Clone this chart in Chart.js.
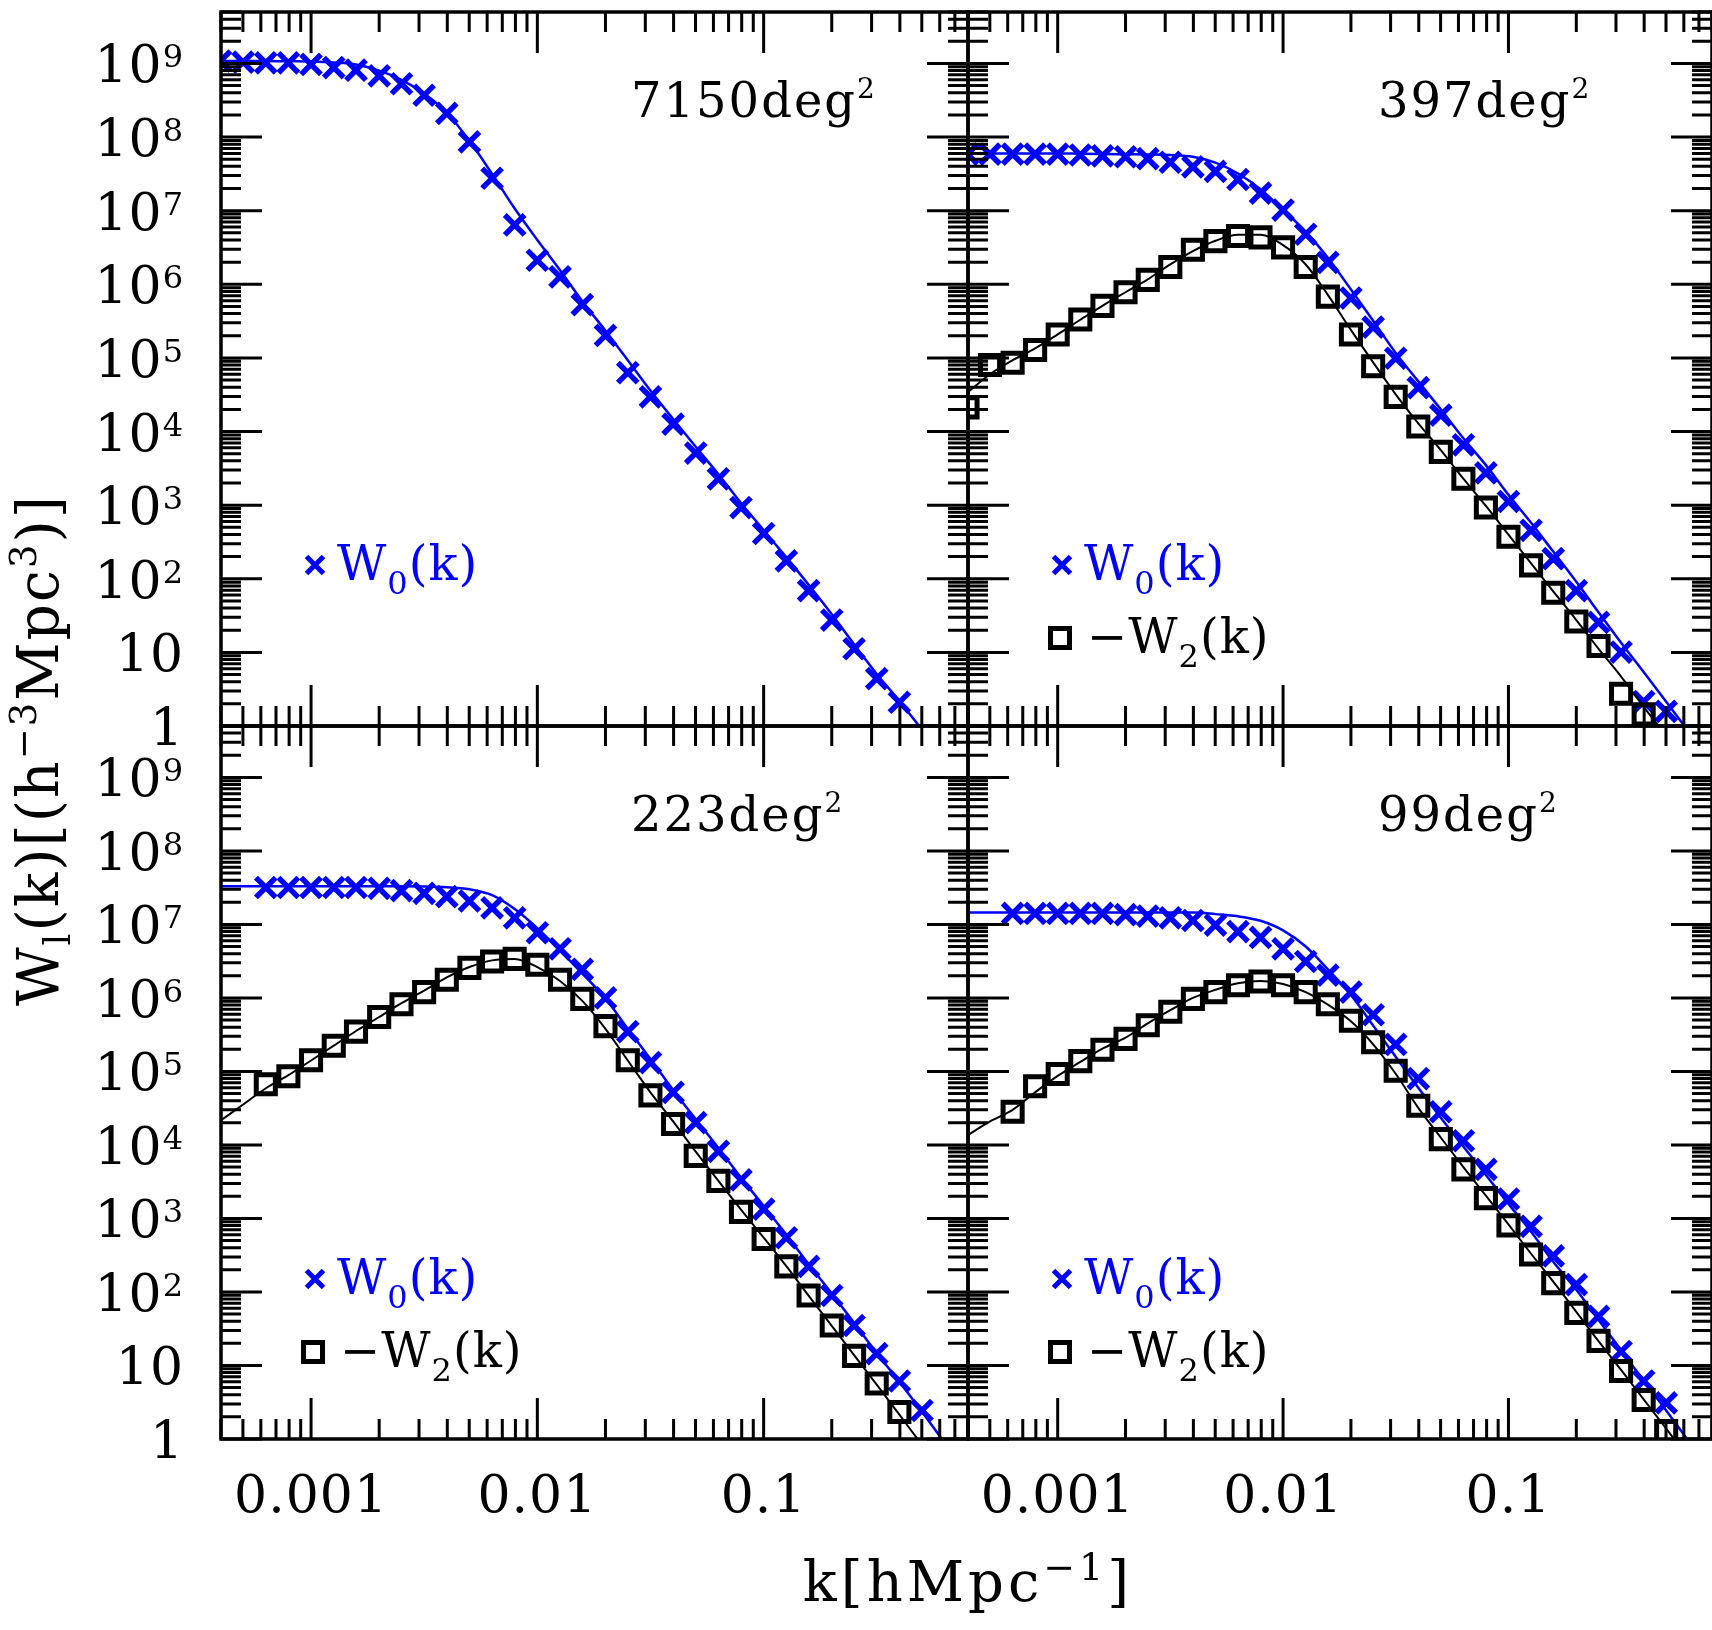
<!DOCTYPE html>
<html lang="en">
<head>
<meta charset="utf-8">
<title>W0(k) and -W2(k) for four survey areas</title>
<script src="https://cdn.jsdelivr.net/npm/chart.js@4.4.1/dist/chart.umd.min.js"></script>
<style>
    html, body { margin: 0; padding: 0; background: #fff; overflow: hidden; }
    #figure { position: relative; width: 1712px; height: 1630px; overflow: hidden; }
    #figure canvas { position: absolute; left: 0; top: 0; }
</style>
</head>
<body>
<div id="figure">
    <canvas id="panel-7150" width="1712" height="1630"></canvas>
    <canvas id="panel-397" width="1712" height="1630"></canvas>
    <canvas id="panel-223" width="1712" height="1630"></canvas>
    <canvas id="panel-99" width="1712" height="1630"></canvas>
</div>
<script>
// k bins [h/Mpc], shared by every series (null = no point in that bin)
const kGrid = [3.98e-4, 5.01e-4, 6.31e-4, 7.94e-4, 1.00e-3, 1.26e-3, 1.58e-3, 2.00e-3, 2.51e-3, 3.16e-3,
    3.98e-3, 5.01e-3, 6.31e-3, 7.94e-3, 1.00e-2, 1.26e-2, 1.58e-2, 2.00e-2, 2.51e-2, 3.16e-2,
    3.98e-2, 5.01e-2, 6.31e-2, 7.94e-2, 0.100, 0.126, 0.158, 0.200, 0.251, 0.316, 0.398, 0.501, 0.631];

// 7150 deg^2
const w0_7150 = [1.08e9, 1.04e9, 1.02e9, 1.02e9, 9.7e8, 8.8e8, 8.1e8, 6.8e8, 5.3e8, 3.7e8,
    2.1e8, 8.6e7, 2.76e7, 6.4e6, 2.12e6, 1.26e6, 5.3e5, 2.02e5, 6.3e4, 2.96e4,
    1.26e4, 5.1e3, 2.28e3, 927, 412, 175, 69, 27.5, 11.2, 4.4, 2.1, null, null];
const w0Fit_7150 = [1.08e9, 1.08e9, 1.08e9, 1.07e9, 1.06e9, 1.03e9, 9.7e8, 8.0e8, 6.0e8, 3.9e8,
    2.14e8, 8.9e7, 3.16e7, 1.07e7, 4.0e6, 1.55e6, 5.9e5, 2.34e5, 9.3e4, 3.6e4,
    1.48e4, 6.2e3, 2.63e3, 1.07e3, 457, 195, 83, 33, 12.9, 5.1, 2.19, 0.89, 0.36];

// 397 deg^2
const w0_397 = [5.87e7, 5.87e7, 5.87e7, 5.87e7, 5.87e7, 5.71e7, 5.56e7, 5.4e7, 5.09e7, 4.55e7,
    3.94e7, 3.42e7, 2.65e7, 1.73e7, 1.02e7, 4.79e6, 1.98e6, 6.5e5, 2.62e5, 9.9e4,
    3.94e4, 1.67e4, 6.6e3, 2.74e3, 1.12e3, 455, 188, 69, 25.6, 10.1, 2.14, 1.58, null];
const w0Fit_397 = [6.0e7, 6.0e7, 6.0e7, 6.0e7, 6.0e7, 5.95e7, 5.9e7, 5.85e7, 5.8e7, 5.7e7,
    5.4e7, 4.5e7, 3.2e7, 1.95e7, 1.02e7, 5.2e6, 2.29e6, 8.5e5, 3.2e5, 1.17e5,
    4.8e4, 2.0e4, 8.1e3, 3.5e3, 1.38e3, 575, 234, 91, 35, 13.5, 5.4, 2.14, 0.83];
const w2_397 = [2.13e4, 8.0e4, 8.6e4, 1.28e5, 2.08e5, 3.33e5, 5.1e5, 7.8e5, 1.15e6, 1.72e6,
    2.95e6, 3.86e6, 4.52e6, 4.34e6, 3.17e6, 1.72e6, 6.8e5, 2.08e5, 7.7e4, 2.96e4,
    1.17e4, 5.3e3, 2.28e3, 927, 372, 152, 64.6, 26.3, 12.2, 2.74, 1.44, null, null];
const w2Fit_397 = [3.4e4, 6.0e4, 9.3e4, 1.35e5, 2.09e5, 3.3e5, 5.1e5, 7.8e5, 1.17e6, 1.86e6,
    2.82e6, 3.9e6, 4.7e6, 4.7e6, 3.4e6, 1.86e6, 7.2e5, 2.4e5, 8.7e4, 3.2e4,
    1.29e4, 5.6e3, 2.29e3, 977, 398, 162, 67.6, 27.5, 11.2, 4.7, 1.82, 0.74, 0.3];

// 223 deg^2
const w0_223 = [null, null, 3.18e7, 3.18e7, 3.18e7, 3.18e7, 3.18e7, 3.1e7, 2.88e7, 2.65e7,
    2.39e7, 2.08e7, 1.68e7, 1.23e7, 7.7e6, 4.66e6, 2.45e6, 1.0e6, 3.48e5, 1.32e5,
    5.2e4, 2.01e4, 8.2e3, 3.34e3, 1.34e3, 547, 223, 89.5, 35, 14.5, 6.15, 2.44, null];
const w0Fit_223 = [3.3e7, 3.3e7, 3.3e7, 3.3e7, 3.3e7, 3.3e7, 3.3e7, 3.3e7, 3.3e7, 3.28e7,
    3.2e7, 3.0e7, 2.5e7, 1.62e7, 8.9e6, 4.4e6, 2.14e6, 9.8e5, 3.8e5, 1.48e5,
    5.6e4, 2.24e4, 9.1e3, 3.6e3, 1.48e3, 603, 240, 95.5, 38, 14.8, 6.0, 2.34, 0.89];
const w2_223 = [null, null, 6.7e4, 8.6e4, 1.42e5, 2.24e5, 3.48e5, 5.5e5, 8.2e5, 1.2e6,
    1.77e6, 2.56e6, 3.13e6, 3.4e6, 2.82e6, 1.77e6, 9.7e5, 4.13e5, 1.42e5, 4.73e4,
    1.93e4, 7.1e3, 3.25e3, 1.23e3, 525, 223, 89.5, 35, 13.5, 5.7, 2.33, null, null];
const w2Fit_223 = [2.14e4, 3.55e4, 5.9e4, 8.9e4, 1.41e5, 2.24e5, 3.55e5, 5.5e5, 8.5e5, 1.26e6,
    1.9e6, 2.63e6, 3.24e6, 3.39e6, 2.63e6, 1.7e6, 9.1e5, 3.8e5, 1.41e5, 5.2e4,
    2.09e4, 8.1e3, 3.24e3, 1.32e3, 550, 224, 89, 34.7, 13.8, 5.5, 2.14, 0.83, 0.33];

// 99 deg^2
const w0_99 = [null, null, 1.41e7, 1.41e7, 1.41e7, 1.41e7, 1.41e7, 1.36e7, 1.3e7, 1.23e7,
    1.13e7, 9.8e6, 8.0e6, 6.65e6, 4.66e6, 3.13e6, 2.04e6, 1.2e6, 5.9e5, 2.33e5,
    8.0e4, 2.83e4, 1.14e4, 4.65e3, 1.84e3, 782, 310, 126, 46.6, 15.5, 6.15, 3.1, null];
const w0Fit_99 = [1.45e7, 1.45e7, 1.45e7, 1.45e7, 1.45e7, 1.45e7, 1.45e7, 1.45e7, 1.45e7, 1.45e7,
    1.45e7, 1.38e7, 1.29e7, 1.12e7, 8.3e6, 5.0e6, 2.45e6, 1.1e6, 4.2e5, 1.58e5,
    6.0e4, 2.34e4, 9.5e3, 3.9e3, 1.58e3, 660, 257, 107, 41.7, 16.2, 6.2, 2.45, 0.93];
const w2_99 = [null, null, 2.83e4, 6.3e4, 9.25e4, 1.38e5, 1.97e5, 2.77e5, 4.25e5, 6.5e5,
    9.7e5, 1.2e6, 1.49e6, 1.67e6, 1.49e6, 1.2e6, 8.2e5, 4.9e5, 2.5e5, 1.02e5,
    3.41e4, 1.2e4, 4.65e3, 1.89e3, 805, 323, 132, 52, 21.6, 8.4, 3.4, 1.28, null];
const w2Fit_99 = [1.35e4, 2.09e4, 3.0e4, 5.2e4, 8.7e4, 1.35e5, 2.04e5, 2.88e5, 4.5e5, 6.8e5,
    1.0e6, 1.29e6, 1.58e6, 1.7e6, 1.55e6, 1.2e6, 8.1e5, 4.8e5, 2.34e5, 9.3e4,
    3.2e4, 1.26e4, 5.0e3, 2.04e3, 832, 331, 138, 53.7, 21.4, 8.7, 3.47, 1.38, 0.55];

// axis labels
const yTickBase = ['1', '10', '10', '10', '10', '10', '10', '10', '10', '10'];
const yTickExp = ['', '', '2', '3', '4', '5', '6', '7', '8', '9'];
const xTickValues = [0.001, 0.01, 0.1];
const xTickLabels = ['0.001', '0.01', '0.1'];

const FONT = "'DejaVu Serif', serif";
const BLUE = '#0000ff';
const CW = 1712, CH = 1630;

function xy(values) {
    let out = [];
    values.forEach(function (v, i) {
        if (v !== null) out.push({x: kGrid[i], y: v});
    });
    return out;
}

function richText(ctx, parts, x, y, align) {
    let total = 0;
    parts.forEach(function (p) {
        ctx.font = p.size + 'px ' + FONT;
        p.w = ctx.measureText(p.text).width;
        total += p.w;
    });
    let cx = x;
    if (align === 'right') cx = x - total;
    if (align === 'center') cx = x - total / 2;
    parts.forEach(function (p) {
        ctx.font = p.size + 'px ' + FONT;
        ctx.fillText(p.text, cx, y + (p.dy || 0));
        cx += p.w;
    });
}

const framePlugin = {
    id: 'frame',
    afterDraw(chart, args, opts) {
        let ctx = chart.ctx;
        let a = chart.chartArea;
        let xs = chart.scales.x;
        let ys = chart.scales.y;

        ctx.save();
        ctx.strokeStyle = '#000';
        ctx.lineWidth = 3;
        ctx.beginPath();
        for (let e = -4; e <= 0; e++) {
            for (let m = 1; m <= 9; m++) {
                let v = m * Math.pow(10, e);
                if (v < xs.min * 0.999 || v > xs.max * 1.001) continue;
                let px = xs.getPixelForValue(v);
                let len = m === 1 ? 41 : 20;
                ctx.moveTo(px, a.top); ctx.lineTo(px, a.top + len);
                ctx.moveTo(px, a.bottom); ctx.lineTo(px, a.bottom - len);
            }
        }
        for (let e = 0; e <= 9; e++) {
            for (let m = 1; m <= 9; m++) {
                let v = m * Math.pow(10, e);
                if (v > ys.max * 1.001) continue;
                let py = ys.getPixelForValue(v);
                let len = m === 1 ? 41 : 20;
                ctx.moveTo(a.left, py); ctx.lineTo(a.left + len, py);
                ctx.moveTo(a.right, py); ctx.lineTo(a.right - len, py);
            }
        }
        ctx.stroke();
        ctx.lineWidth = 3.5;
        ctx.strokeRect(a.left, a.top, a.right - a.left, a.bottom - a.top);

        ctx.textAlign = 'left';
        ctx.textBaseline = 'alphabetic';
        ctx.letterSpacing = '1px';
        ctx.fillStyle = '#000';

        if (opts.yLabels) {
            yTickBase.forEach(function (base, i) {
                let py = ys.getPixelForValue(Math.pow(10, i));
                let parts = [{text: base, size: 52}];
                if (yTickExp[i]) parts.push({text: yTickExp[i], size: 32, dy: -15});
                richText(ctx, parts, 184, py + 19, 'right');
            });
        }
        if (opts.xLabels) {
            xTickValues.forEach(function (v, i) {
                richText(ctx, [{text: xTickLabels[i], size: 52}], xs.getPixelForValue(v), 1512, 'center');
            });
        }

        // survey area
        ctx.letterSpacing = '2px';
        richText(ctx, [{text: opts.area + 'deg', size: 48}, {text: '2', size: 28, dy: -19}],
            a.left + 410, a.top + 105, 'left');

        // legend
        ctx.letterSpacing = '1px';
        let lx = a.left + 94, ly = a.top + 553;
        ctx.strokeStyle = BLUE;
        ctx.lineWidth = 5;
        ctx.beginPath();
        ctx.moveTo(lx - 8.5, ly - 8.5); ctx.lineTo(lx + 8.5, ly + 8.5);
        ctx.moveTo(lx + 8.5, ly - 8.5); ctx.lineTo(lx - 8.5, ly + 8.5);
        ctx.stroke();
        ctx.fillStyle = BLUE;
        richText(ctx, [{text: 'W', size: 48}, {text: '0', size: 32, dy: 14}, {text: '(k)', size: 48}],
            a.left + 116, a.top + 568, 'left');
        if (opts.quadrupole) {
            let sx = a.left + 92, sy = a.top + 626;
            ctx.strokeStyle = '#000';
            ctx.lineWidth = 5;
            ctx.strokeRect(sx - 9.5, sy - 9.5, 19, 19);
            ctx.fillStyle = '#000';
            richText(ctx, [{text: '\u2212W', size: 48}, {text: '2', size: 32, dy: 14}, {text: '(k)', size: 48}],
                a.left + 119, a.top + 641, 'left');
        }

        if (opts.titles) {
            ctx.fillStyle = '#000';
            ctx.letterSpacing = '4px';
            richText(ctx, [{text: 'k[hMpc', size: 56}, {text: '\u22121', size: 38, dy: -21}, {text: ']', size: 56}],
                968, 1601, 'center');
            ctx.letterSpacing = '2px';
            ctx.translate(58, 750);
            ctx.rotate(-Math.PI / 2);
            richText(ctx, [
                {text: 'W', size: 57}, {text: 'l', size: 37, dy: 12},
                {text: '(k)[(h', size: 57}, {text: '\u22123', size: 37, dy: -22},
                {text: 'Mpc', size: 57}, {text: '3', size: 37, dy: -22},
                {text: ')]', size: 57}
            ], 0, 0, 'center');
        }
        ctx.restore();
    }
};

function fitLine(values, color, width) {
    return {
        data: xy(values), borderColor: color, borderWidth: width, pointRadius: 0,
        showLine: true, fill: false, cubicInterpolationMode: 'monotone', clip: 0
    };
}

function markers(values, color, style, radius, width) {
    return {
        data: xy(values), showLine: false, borderColor: color, backgroundColor: 'rgba(0,0,0,0)',
        pointStyle: style, pointRadius: radius, pointBorderWidth: width,
        pointBorderColor: color, pointBackgroundColor: 'rgba(0,0,0,0)', clip: 0
    };
}

function makePanel(id, box, area, series, opts) {
    let datasets = [];
    if (series.w2) {
        datasets.push(markers(series.w2, '#000', 'rect', 13.5, 5));
        datasets.push(fitLine(series.w2Fit, '#000', 2));
    }
    datasets.push(markers(series.w0, BLUE, 'crossRot', 14, 5.5));
    datasets.push(fitLine(series.w0Fit, BLUE, 2.5));

    // right-hand panels run 3px past the canvas edge, as in the original figure
    return new Chart(document.getElementById(id), {
        type: 'line',
        data: {datasets: datasets},
        options: {
            responsive: false,
            animation: false,
            devicePixelRatio: 1,
            events: [],
            layout: {
                autoPadding: false,
                padding: {left: box[0], top: box[1], right: CW - box[2], bottom: CH - box[3]}
            },
            scales: {
                x: {type: 'logarithmic', min: 4e-4, max: 0.8, display: false},
                y: {type: 'logarithmic', min: 1, max: 5e9, display: false}
            },
            plugins: {
                legend: {display: false},
                tooltip: {enabled: false},
                frame: Object.assign({area: area, quadrupole: !!series.w2}, opts)
            }
        },
        plugins: [framePlugin]
    });
}

makePanel('panel-7150', [221, 12, 968, 726], '7150',
    {w0: w0_7150, w0Fit: w0Fit_7150}, {yLabels: true, xLabels: false});
makePanel('panel-397', [968, 12, 1715, 726], '397',
    {w0: w0_397, w0Fit: w0Fit_397, w2: w2_397, w2Fit: w2Fit_397}, {yLabels: false, xLabels: false});
makePanel('panel-223', [221, 726, 968, 1439], '223',
    {w0: w0_223, w0Fit: w0Fit_223, w2: w2_223, w2Fit: w2Fit_223}, {yLabels: true, xLabels: true, titles: true});
makePanel('panel-99', [968, 726, 1715, 1439], '99',
    {w0: w0_99, w0Fit: w0Fit_99, w2: w2_99, w2Fit: w2Fit_99}, {yLabels: false, xLabels: true});
</script>
</body>
</html>
